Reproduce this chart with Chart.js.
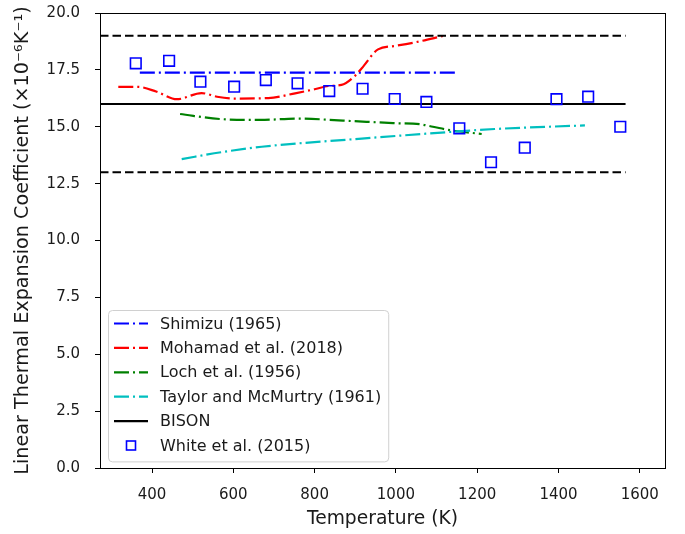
<!DOCTYPE html>
<html>
<head>
<meta charset="utf-8">
<script src="https://cdn.jsdelivr.net/npm/chart.js@4/dist/chart.umd.min.js"></script>
<style>
  html, body { margin: 0; padding: 0; background: #fff; }
  #wrap { width: 685px; height: 534px; }
</style>
</head>
<body>
<div id="wrap"><canvas id="cte" width="685" height="534"></canvas></div>
<script>
// temperature (K) / coefficient (1e-6 per K) for each source
var shimizuT = [370, 1145];
var shimizuA = [17.38, 17.38];

var mohamadT = [317, 366, 410, 461, 522, 560, 604, 686, 752, 800, 834, 866, 900, 916, 956, 997, 1050, 1116];
var mohamadA = [16.75, 16.75, 16.55, 16.21, 16.48, 16.32, 16.24, 16.26, 16.47, 16.65, 16.79, 16.84, 17.25, 17.57, 18.40, 18.55, 18.72, 18.99];

var lochT = [469, 567, 666, 760, 870, 993, 1059, 1091, 1133, 1211];
var lochA = [15.56, 15.34, 15.30, 15.36, 15.27, 15.16, 15.11, 15.00, 14.85, 14.68];

var taylorT = [473, 570, 670, 916, 1140, 1243, 1465];
var taylorA = [13.58, 13.88, 14.12, 14.48, 14.78, 14.90, 15.06];

var bisonT = [272, 1565];
var bisonA = [16, 16];
var upperA = [19, 19];
var lowerA = [13, 13];

var whiteT = [360, 442, 519, 602, 680, 758, 836, 918, 997, 1075, 1156, 1234, 1317, 1395, 1473, 1552];
var whiteA = [17.79, 17.90, 16.98, 16.76, 17.05, 16.91, 16.57, 16.67, 16.22, 16.09, 14.93, 13.44, 14.08, 16.21, 16.32, 15.00];

var xTicks = [400, 600, 800, 1000, 1200, 1400, 1600];

function pts(xs, ys) {
    return xs.map(function(x, i) { return { x: x, y: ys[i] }; });
}

var dashDot = [15, 4, 2, 4];
var dashed = [8.5, 4];
var FONT = '"DejaVu Sans", sans-serif';

function lineSet(label, xs, ys, color, dash, order, inLegend) {
    return {
        label: label,
        data: pts(xs, ys),
        showLine: true,
        borderColor: color,
        backgroundColor: color,
        borderWidth: 2.2,
        borderDash: dash,
        pointRadius: 0,
        cubicInterpolationMode: 'monotone',
        order: order,
        inLegend: inLegend
    };
}

// boxed frame around the plot area
var framePlugin = {
    id: 'frame',
    afterDatasetsDraw: function(chart) {
        var a = chart.chartArea, ctx = chart.ctx;
        ctx.save();
        ctx.strokeStyle = '#000';
        ctx.lineWidth = 1;
        ctx.strokeRect(Math.round(a.left) + 0.5, Math.round(a.top) + 0.5,
            Math.round(a.right - a.left), Math.round(a.bottom - a.top));
        ctx.restore();
    }
};

// matplotlib style legend in the lower left corner
var legendPlugin = {
    id: 'mplLegend',
    afterDraw: function(chart) {
        var ctx = chart.ctx;
        var items = chart.data.datasets.filter(function(d) { return d.inLegend; });
        var x0 = 108, y0 = 310, rowH = 24.4, handleW = 34;
        ctx.save();
        ctx.font = '16px ' + FONT;
        var textW = 0;
        items.forEach(function(d) { textW = Math.max(textW, ctx.measureText(d.label).width); });
        var w = 52 + textW + 7, h = rowH * items.length + 5;
        ctx.beginPath();
        ctx.roundRect(x0 + 0.5, y0 + 0.5, w, h, 4);
        ctx.fillStyle = 'rgba(255,255,255,0.8)';
        ctx.fill();
        ctx.strokeStyle = '#d0d0d0';
        ctx.lineWidth = 1;
        ctx.stroke();
        items.forEach(function(d, i) {
            var cy = y0 + 13.5 + i * rowH;
            var hx = x0 + 6;
            if (d.showLine) {
                ctx.beginPath();
                ctx.setLineDash(d.borderDash || []);
                ctx.strokeStyle = d.borderColor;
                ctx.lineWidth = d.borderWidth;
                ctx.moveTo(hx, cy);
                ctx.lineTo(hx + handleW, cy);
                ctx.stroke();
                ctx.setLineDash([]);
            } else {
                ctx.strokeStyle = d.borderColor;
                ctx.lineWidth = d.borderWidth;
                ctx.strokeRect(hx + handleW / 2 - 4.5, cy - 4.5, 9, 9);
            }
            ctx.fillStyle = '#1a1a1a';
            ctx.textBaseline = 'middle';
            ctx.fillText(d.label, x0 + 52, cy + 1);
        });
        ctx.restore();
    }
};

var datasets = [
    lineSet('Shimizu (1965)', shimizuT, shimizuA, '#0000ff', dashDot, 6, true),
    lineSet('Mohamad et al. (2018)', mohamadT, mohamadA, '#ff0000', dashDot, 5, true),
    lineSet('Loch et al. (1956)', lochT, lochA, '#008000', dashDot, 4, true),
    lineSet('Taylor and McMurtry (1961)', taylorT, taylorA, '#00bfbf', dashDot, 3, true),
    lineSet('BISON', bisonT, bisonA, '#000000', [], 2, true),
    lineSet('BISON upper', bisonT, upperA, '#000000', dashed, 1, false),
    lineSet('BISON lower', bisonT, lowerA, '#000000', dashed, 1, false),
    {
        label: 'White et al. (2015)',
        data: pts(whiteT, whiteA),
        showLine: false,
        pointStyle: 'rect',
        pointRadius: 7.5,
        borderWidth: 1.6,
        borderColor: '#0000ff',
        backgroundColor: 'rgba(0,0,0,0)',
        order: 0,
        inLegend: true
    }
];

Chart.defaults.font.family = FONT;
Chart.defaults.color = '#1a1a1a';

new Chart(document.getElementById('cte'), {
    type: 'scatter',
    data: { datasets: datasets },
    options: {
        responsive: false,
        animation: false,
        devicePixelRatio: 1,
        layout: { padding: { left: 0, right: 20, top: 13, bottom: 0 } },
        plugins: {
            legend: { display: false },
            tooltip: { enabled: false }
        },
        scales: {
            x: {
                type: 'linear',
                min: 272,
                max: 1662,
                afterBuildTicks: function(scale) {
                    scale.ticks = xTicks.map(function(v) { return { value: v }; });
                },
                afterFit: function(scale) {
                    scale.height = 66;
                    scale.paddingLeft = 0;
                    scale.paddingRight = 0;
                },
                grid: { drawOnChartArea: false, tickLength: 5, color: '#000' },
                border: { color: '#000' },
                ticks: { font: { size: 15 }, padding: 13, maxRotation: 0, callback: function(v) { return v; } },
                title: { display: true, text: 'Temperature (K)', font: { size: 18.7 }, padding: { top: 2, bottom: 4 } }
            },
            y: {
                min: 0,
                max: 20,
                afterFit: function(scale) {
                    scale.width = 100;
                    scale.paddingTop = 0;
                    scale.paddingBottom = 0;
                },
                grid: { drawOnChartArea: false, tickLength: 5, color: '#000' },
                border: { color: '#000' },
                ticks: { stepSize: 2.5, font: { size: 15 }, padding: 15, callback: function(v) { return v.toFixed(1); } },
                title: { display: true, text: 'Linear Thermal Expansion Coefficient (\u00d710\u207b\u2076K\u207b\u00b9)', font: { size: 19.2 }, padding: { top: 11, bottom: 4 } }
            }
        }
    },
    plugins: [framePlugin, legendPlugin]
});
</script>
</body>
</html>
